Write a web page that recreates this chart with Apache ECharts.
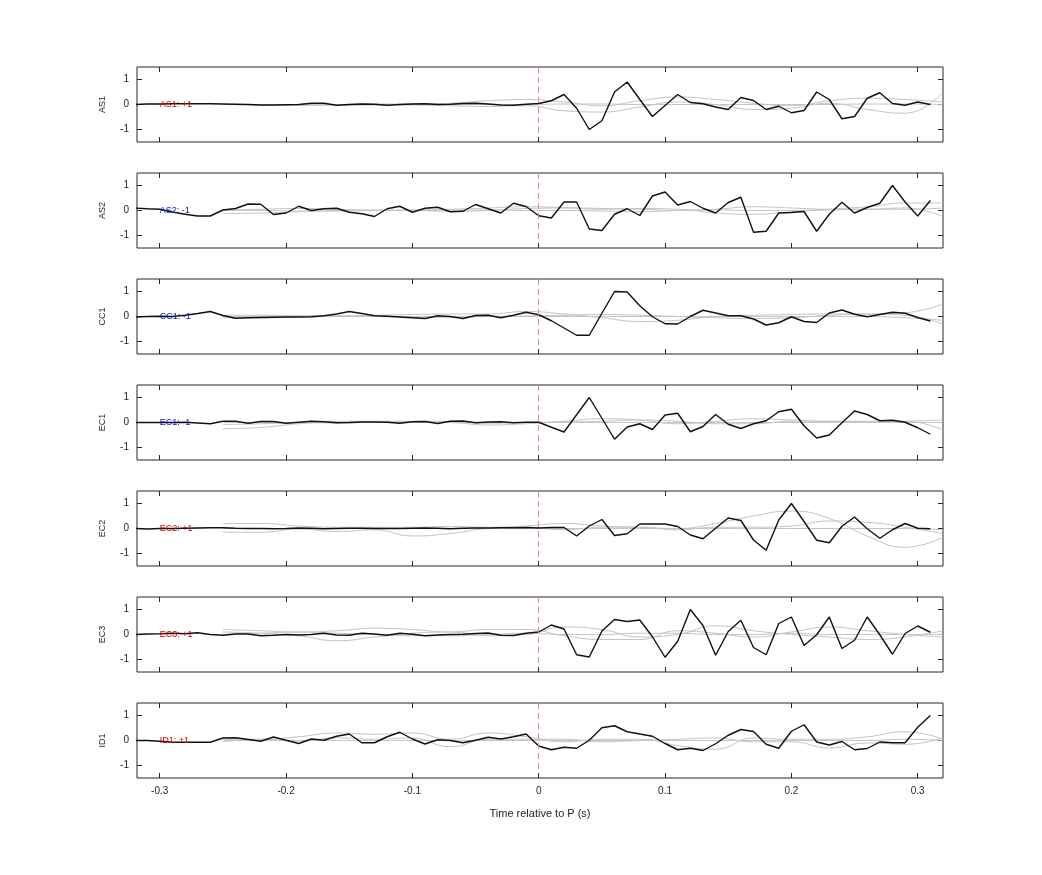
<!DOCTYPE html>
<html>
<head>
<meta charset="utf-8">
<script src="https://cdn.jsdelivr.net/npm/echarts@6/dist/echarts.min.js"></script>
<style>
  html, body { margin: 0; padding: 0; background: #fff; }
  #main { width: 1042px; height: 875px; }
</style>
</head>
<body>
<div id="main"></div>
<script>
// station names, polarity labels and their colours
const stations = ['AS1', 'AS2', 'CC1', 'EC1', 'EC2', 'EC3', 'ID1'];
const polarity = ['+1', '-1', '-1', '-1', '+1', '+1', '+1'];
const polColor = ['#d40000', '#1010c8', '#1010c8', '#1010c8', '#d40000', '#d40000', '#d40000'];

// black traces: samples from -0.32 to 0.31 s every 0.01 s
const blackTime = [];
for (let i = -32; i <= 31; i++) blackTime.push(i / 100);

const AS1 = [0, 0.02, 0.02, 0.03, 0.03, 0.03, 0.03, 0.02, 0.01, 0, -0.02, -0.02, -0.01, 0, 0.05, 0.05, -0.03, 0, 0.02, 0.01, -0.03, 0, 0.02, 0.03, 0, 0.01, 0.04, 0.05, 0.02, -0.02, -0.03, 0.01,
  0.04, 0.15, 0.4, -0.15, -1.0, -0.65, 0.5, 0.9, 0.2, -0.48, -0.04, 0.4, 0.08, 0.03, -0.1, -0.2, 0.28, 0.16, -0.2, -0.07, -0.33, -0.24, 0.5, 0.2, -0.57, -0.48, 0.25, 0.47, 0.04, -0.03, 0.1, 0];
const AS2 = [0.1, 0.07, 0.05, -0.06, -0.15, -0.22, -0.22, 0.02, 0.08, 0.26, 0.25, -0.16, -0.1, 0.17, 0, 0.07, 0.09, -0.07, -0.13, -0.24, 0.07, 0.17, -0.07, 0.09, 0.13, -0.05, -0.03, 0.24, 0.07, -0.1, 0.29, 0.16, -0.21,
  -0.3, 0.34, 0.34, -0.74, -0.8, -0.15, 0.07, -0.2, 0.58, 0.74, 0.22, 0.36, 0.09, -0.1, 0.32, 0.53, -0.87, -0.83, -0.1, -0.08, -0.04, -0.83, -0.15, 0.33, -0.1, 0.12, 0.29, 1.0, 0.34, -0.22, 0.4];
const CC1 = [-0.03, 0, 0.01, 0, 0.05, 0.12, 0.2, 0.04, -0.07, -0.05, -0.04, -0.03, -0.02, -0.02, -0.01, 0.03, 0.1, 0.2, 0.12, 0.03, 0.01, -0.02, -0.05, -0.08, 0.03, 0, -0.08, 0.04, 0.05, -0.05, 0.05, 0.17,
  0.07, -0.17, -0.46, -0.75, -0.75, 0.13, 1.0, 0.98, 0.43, -0.01, -0.29, -0.3, 0, 0.25, 0.14, 0.03, 0.03, -0.1, -0.34, -0.25, -0.01, -0.2, -0.24, 0.14, 0.26, 0.09, -0.01, 0.08, 0.17, 0.13, -0.04, -0.18];
const EC1 = [0, 0, 0, 0, 0.01, -0.02, -0.05, 0.05, 0.05, -0.03, 0.04, 0.04, -0.03, 0.01, 0.05, 0.03, -0.01, 0, 0.02, 0.02, 0.01, -0.03, 0.03, 0.04, -0.04, 0.05, 0.06, -0.01, 0.02, 0.03, -0.01, 0.01, 0.01,
  -0.19, -0.38, 0.31, 1.0, 0.17, -0.67, -0.18, -0.05, -0.28, 0.3, 0.37, -0.37, -0.16, 0.32, -0.07, -0.24, -0.05, 0.07, 0.43, 0.53, -0.13, -0.62, -0.5, -0.01, 0.46, 0.32, 0.07, 0.09, 0.01, -0.21, -0.47];
const EC2 = [0, -0.02, 0, 0, 0.01, 0.02, 0.03, 0.03, 0.01, 0, 0, -0.01, 0, 0.02, 0.01, -0.01, 0, 0.01, 0.01, 0, 0, 0, 0.01, 0.02, 0.01, -0.01, 0.01, 0.02, 0.02, 0.03, 0.03, 0.04, 0.02,
  0.04, 0.04, -0.3, 0.1, 0.36, -0.28, -0.21, 0.18, 0.18, 0.18, 0.08, -0.26, -0.41, 0.01, 0.42, 0.32, -0.46, -0.87, 0.34, 1.0, 0.28, -0.47, -0.57, 0.09, 0.46, -0.01, -0.39, -0.05, 0.2, 0.01, -0.01];
const EC3 = [0, 0.02, 0.03, 0.05, 0.03, 0.07, 0, -0.03, 0.02, 0.02, -0.05, -0.03, 0, -0.02, 0, 0.05, -0.02, -0.03, 0.05, 0.02, -0.03, 0.05, 0.01, -0.05, -0.02, 0, 0.01, 0.04, 0.06, -0.03, -0.04, 0.05, 0.1,
  0.38, 0.22, -0.81, -0.9, 0.14, 0.6, 0.52, 0.58, -0.09, -0.91, -0.27, 1.0, 0.36, -0.83, 0.12, 0.57, -0.52, -0.81, 0.44, 0.7, -0.44, -0.01, 0.7, -0.56, -0.23, 0.7, -0.01, -0.79, 0.04, 0.34, 0.09];
const ID1 = [0, 0, -0.03, -0.07, -0.07, -0.07, -0.07, 0.1, 0.11, 0.04, -0.03, 0.14, 0.01, -0.12, 0.06, 0.01, 0.17, 0.26, -0.09, -0.09, 0.15, 0.33, 0.06, -0.14, 0.03, 0, -0.09, 0.01, 0.13, 0.06, 0.15, 0.26, -0.22,
  -0.37, -0.27, -0.31, 0.01, 0.51, 0.59, 0.35, 0.26, 0.17, -0.12, -0.37, -0.31, -0.4, -0.13, 0.21, 0.44, 0.36, -0.15, -0.31, 0.37, 0.63, -0.06, -0.18, -0.04, -0.37, -0.32, -0.06, -0.09, -0.09, 0.53, 1.0];
const blackData = [AS1, AS2, CC1, EC1, EC2, EC3, ID1];

// grey traces: samples from -0.25 to 0.32 s every 0.03 s
const greyTime = [-0.25, -0.22, -0.19, -0.16, -0.13, -0.10, -0.07, -0.04, -0.01, 0.02, 0.05, 0.08, 0.11, 0.14, 0.17, 0.20, 0.23, 0.26, 0.29, 0.32];
const greyData = [
  [ // AS1
    [0, 0, -0.02, -0.03, -0.02, 0, 0.05, 0.15, 0.2, 0.1, -0.05, 0.15, 0.3, 0.2, 0.05, -0.05, 0.15, 0.25, 0.2, 0.1],
    [0, -0.02, -0.03, 0, 0, -0.02, -0.05, -0.08, -0.05, -0.25, -0.3, -0.1, 0.1, 0, -0.2, -0.15, 0.05, -0.2, -0.35, 0.5],
    [0, 0, 0, 0, 0.02, 0.02, 0, 0, 0, 0.02, 0.02, 0, 0, 0, 0, 0, 0, 0.02, 0.02, 0]
  ],
  [ // AS2
    [-0.12, -0.1, -0.05, 0, 0.02, 0, -0.03, 0, 0.08, 0.1, 0.05, 0.08, 0.05, -0.1, -0.15, -0.05, 0.05, 0.15, 0.3, 0.3],
    [0.02, 0.05, 0.08, 0.05, 0, 0.02, 0.05, 0.1, 0.15, 0.12, 0.08, 0.05, 0, 0.05, 0.15, 0.1, 0.05, 0.05, 0.1, -0.25],
    [0, 0, -0.02, -0.02, 0, 0, 0.02, 0.02, 0, 0, -0.02, -0.05, 0, 0.02, 0, 0, 0.02, 0.05, 0.05, 0.1]
  ],
  [ // CC1
    [0.05, 0.05, 0.03, 0.03, 0.05, 0.08, 0.1, 0.1, 0.2, 0.1, -0.05, -0.2, -0.15, 0, 0.05, 0.08, 0.1, 0.1, 0.15, 0.5],
    [-0.05, -0.05, -0.03, 0, 0, -0.02, -0.03, 0, 0.02, 0.05, 0.08, 0.05, 0, -0.05, -0.08, -0.05, 0.05, 0.1, 0.05, -0.3],
    [0, 0, 0.02, 0.02, 0, 0, 0, 0, 0, 0, 0, 0, 0, 0, 0, 0, 0, 0, -0.05, -0.15]
  ],
  [ // EC1
    [-0.25, -0.2, -0.05, 0.02, 0.03, 0.02, 0, -0.1, -0.05, 0.05, 0.15, 0.1, -0.05, 0.05, 0.15, 0.1, 0.05, 0.05, 0.05, -0.3],
    [-0.08, -0.05, 0, 0.05, 0.05, 0.05, 0.05, -0.03, 0, 0.02, 0.05, 0.1, 0.05, -0.05, -0.05, 0.05, 0.05, 0.02, 0.05, 0.1],
    [0, 0, 0, -0.02, 0, 0, 0, 0, 0, 0, 0, 0, 0, 0, 0, 0, 0, 0, 0, 0]
  ],
  [ // EC2
    [0.2, 0.2, 0.1, 0.05, 0.05, 0.05, 0.08, 0.05, 0.1, 0.2, 0.1, 0.05, 0, 0.2, 0.5, 0.7, 0.4, -0.3, -0.75, -0.35],
    [-0.15, -0.15, -0.02, -0.12, -0.05, -0.3, -0.2, 0, 0.05, -0.05, 0.05, 0.05, -0.05, 0.05, 0.05, 0.1, 0.3, 0.25, 0.05, -0.2],
    [0, 0, 0, 0, 0, 0, 0, 0, 0, 0, 0, 0, 0, 0, 0, 0, 0, 0, 0, -0.05]
  ],
  [ // EC3
    [0.2, 0.15, 0.1, 0.15, 0.25, 0.2, 0.1, 0.2, 0.2, -0.05, -0.2, -0.2, 0.15, 0.05, -0.1, 0.1, 0.3, 0.15, 0, -0.1],
    [0.1, 0.05, -0.05, -0.25, -0.1, 0.05, 0.1, -0.05, 0, 0.3, 0.2, -0.1, 0, 0.35, 0.15, 0, -0.1, -0.2, -0.1, 0.15],
    [0, 0.05, 0.1, 0.05, 0, -0.05, -0.05, 0, 0.05, 0, 0, 0.05, 0.05, 0, 0, 0.05, 0, 0, 0, 0]
  ],
  [ // ID1
    [0.05, 0.05, 0.15, 0.3, 0.25, 0.3, 0.05, 0.3, 0.15, -0.05, 0.05, 0.05, -0.2, -0.35, 0.1, 0.05, 0.05, 0.15, 0.35, 0.05],
    [-0.05, 0.05, -0.02, 0.1, 0.05, 0.1, -0.25, 0.05, 0.05, 0.05, -0.05, 0, 0.05, 0.1, -0.05, -0.05, -0.3, -0.1, -0.15, 0.1],
    [0, 0, 0, 0, 0, 0, 0, 0, 0, 0, 0, 0, 0, 0, 0, 0, 0, 0, 0.05, 0]
  ]
];

const xTicks = [-0.3, -0.2, -0.1, 0, 0.1, 0.2, 0.3];
const yTicks = [-1, 0, 1];

const chart = echarts.init(document.getElementById('main'));
const fontFamily = 'Liberation Sans, Arial, sans-serif';

const grid = [], xAxis = [], yAxis = [], series = [];
stations.forEach((name, k) => {
  const top = 67 + 106 * k;
  grid.push({ left: 137, width: 806, top: top, height: 75, show: true, borderColor: '#262626', borderWidth: 1, backgroundColor: '#fff' });
  const last = k === stations.length - 1;
  ['bottom', 'top'].forEach((pos) => {
    xAxis.push({
      gridIndex: k, type: 'value', position: pos, min: -0.318, max: 0.32,
      axisLine: { show: false, onZero: false }, splitLine: { show: false },
      axisTick: { show: true, inside: true, length: 5, customValues: xTicks, lineStyle: { color: '#262626' } },
      axisLabel: { show: last && pos === 'bottom', customValues: xTicks, color: '#262626', fontSize: 10, fontFamily, margin: 8,
        formatter: (v) => String(Math.round(v * 10) / 10) },
      name: last && pos === 'bottom' ? 'Time relative to P (s)' : '',
      nameLocation: 'middle', nameGap: 30,
      nameTextStyle: { color: '#262626', fontSize: 11, fontFamily }
    });
  });
  ['left', 'right'].forEach((pos) => {
    yAxis.push({
      gridIndex: k, type: 'value', position: pos, min: -1.5, max: 1.5,
      axisLine: { show: false, onZero: false }, splitLine: { show: false },
      axisTick: { show: true, inside: true, length: 5, customValues: yTicks, lineStyle: { color: '#262626' } },
      axisLabel: { show: pos === 'left', customValues: yTicks, color: '#262626', fontSize: 10, fontFamily, margin: 8 },
      name: pos === 'left' ? name : '', nameLocation: 'middle', nameGap: 30, nameRotate: 90,
      nameTextStyle: { color: '#262626', fontSize: 9, fontFamily }
    });
  });
  greyData[k].forEach((g) => {
    series.push({
      type: 'line', xAxisIndex: 2 * k, yAxisIndex: 2 * k, smooth: 0.5, symbol: 'none', silent: true,
      data: greyTime.map((t, i) => [t, g[i]]),
      lineStyle: { color: '#c4c4c4', width: 1 }, z: 2
    });
  });
  series.push({
    type: 'line', xAxisIndex: 2 * k, yAxisIndex: 2 * k, symbol: 'none', silent: true,
    data: blackTime.map((t, i) => [t, blackData[k][i]]),
    lineStyle: { color: '#111', width: 1.4 }, z: 4,
    markLine: {
      symbol: 'none', silent: true, label: { show: false },
      lineStyle: { color: '#e8868c', type: [6, 4], width: 1 },
      data: [[{ coord: [0, 1.5] }, { coord: [0, -1.2] }]]
    },
    markPoint: {
      symbol: 'circle', symbolSize: 0, silent: true,
      data: [{ coord: [-0.3, 0] }],
      label: { show: true, position: 'right', distance: 0, formatter: name + ': ' + polarity[k],
        color: polColor[k], fontSize: 9, fontFamily }
    }
  });
});

chart.setOption({
  animation: false,
  backgroundColor: '#fff',
  grid, xAxis, yAxis, series
});
</script>
</body>
</html>
